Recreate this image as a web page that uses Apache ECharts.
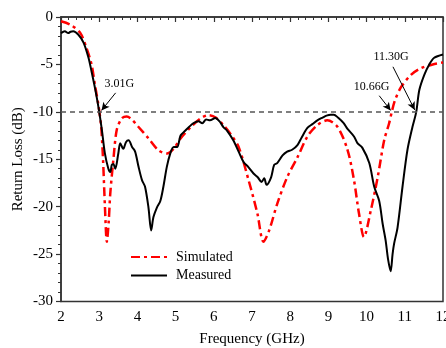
<!DOCTYPE html>
<html>
<head>
<meta charset="utf-8">
<script src="https://cdn.jsdelivr.net/npm/echarts@6/dist/echarts.min.js"></script>
<style>
html,body{margin:0;padding:0;background:#fff;}
#chart{width:446px;height:348px;}
</style>
</head>
<body>
<div id="chart"></div>
<script>
// Simulated return loss [GHz, dB]
const simFreq = [2.0,2.24,2.5,2.67,2.8,2.89,2.98,3.05,3.1,3.15,3.2,3.25,3.29,3.37,3.46,3.59,3.72,3.85,4.03,4.29,4.55,4.77,4.95,5.13,5.4,5.65,5.86,6.05,6.25,6.45,6.65,6.91,7.14,7.3,7.45,7.66,7.92,8.19,8.45,8.71,8.97,9.24,9.5,9.67,9.8,9.93,10.11,10.29,10.46,10.59,10.66,10.74,10.9,11.16,11.42,11.73,12.0];
const simDb   = [-0.45,-0.8,-1.65,-3.3,-5.0,-7.2,-9.3,-11.5,-15,-20,-23.7,-21.5,-18.6,-15.1,-11.9,-10.7,-10.5,-10.8,-11.6,-12.8,-14.05,-14.4,-13.9,-12.8,-11.6,-10.7,-10.35,-10.6,-11.4,-12.4,-13.7,-17.2,-20.7,-23.7,-22.5,-19.7,-16.9,-14.8,-12.6,-11.4,-10.9,-11.6,-14,-17.2,-20.7,-23.2,-20.4,-16.9,-13.0,-11.2,-10,-8.8,-7.4,-6.1,-5.4,-5.0,-4.8];
// Measured return loss [GHz, dB]
const meaFreq = [2.0,2.1,2.19,2.25,2.32,2.45,2.59,2.72,2.8,2.89,2.98,3.07,3.15,3.24,3.29,3.33,3.37,3.42,3.5,3.55,3.63,3.7,3.77,3.86,3.94,4.03,4.12,4.2,4.29,4.36,4.42,4.51,4.6,4.68,4.77,4.86,4.95,5.04,5.13,5.25,5.35,5.47,5.6,5.7,5.8,5.9,6.04,6.15,6.25,6.35,6.51,6.65,6.78,6.9,7.04,7.15,7.25,7.32,7.38,7.5,7.58,7.66,7.8,7.92,8.05,8.19,8.3,8.45,8.58,8.71,8.85,8.95,9.06,9.14,9.25,9.4,9.5,9.67,9.76,9.89,10.07,10.2,10.33,10.42,10.5,10.56,10.63,10.68,10.72,10.81,10.94,11.07,11.2,11.3,11.38,11.51,11.64,11.77,12.0];
const meaDb   = [-1.7,-1.5,-1.7,-1.55,-1.5,-1.85,-2.7,-4.3,-5.75,-7.5,-9.5,-11.9,-14.4,-16.0,-16.35,-15.6,-15.5,-16.0,-14.4,-13.3,-13.9,-13.2,-13.0,-13.7,-14.2,-15.8,-17.2,-17.9,-20.1,-22.5,-21.1,-20.1,-19.4,-17.9,-15.8,-14.4,-13.7,-13.7,-12.5,-12.0,-11.6,-11.2,-11.0,-11.2,-10.8,-10.9,-10.65,-11.0,-11.6,-12.0,-13.0,-14.2,-15.3,-15.8,-16.5,-16.9,-17.4,-17.0,-17.7,-16.9,-15.6,-15.4,-14.6,-14.2,-14.0,-13.5,-12.7,-11.7,-11.3,-10.9,-10.6,-10.4,-10.3,-10.3,-10.6,-11.2,-11.8,-12.6,-13.3,-13.8,-15.4,-17.9,-19.4,-21.8,-23.6,-25.5,-26.8,-25.0,-23.9,-22.2,-17.9,-14.0,-11.6,-10.0,-7.7,-6.1,-5.0,-4.3,-3.95];
const seriesNames = ['Simulated','Measured'];
const refLevel = -10;
// annotations: label, text anchor [GHz,dB], arrow start, arrow tip
const annLabels = ['3.01G','10.66G','11.30G'];
const annText  = [[3.53,-7.0],[10.13,-7.35],[10.64,-4.2]];
const annFrom  = [[3.43,-8.0],[10.33,-8.3],[10.69,-5.25]];
const annTo    = [[3.06,-9.85],[10.63,-9.85],[11.26,-9.8]];

const FONT = '"Liberation Serif","Times New Roman",serif';
const zip = (a,b)=>a.map((v,i)=>[v,b[i]]);

const chart = echarts.init(document.getElementById('chart'), null, {renderer:'canvas'});
const axisCommon = {
  axisLine:{show:true,lineStyle:{color:'#333',width:1.5}},
  axisTick:{show:true,inside:false,length:5,lineStyle:{color:'#333',width:1.2}},
  minorTick:{show:true,splitNumber:5,length:3,lineStyle:{color:'#333',width:1}},
  splitLine:{show:false},
  axisLabel:{color:'#000',fontSize:15,fontFamily:FONT},
  nameTextStyle:{color:'#000',fontSize:15,fontFamily:FONT},
  nameMoveOverlap:false
};
chart.setOption({
  animation:false,
  backgroundColor:'#fff',
  grid:{left:61,right:3,top:17,bottom:46.5,containLabel:false,outerBoundsMode:'none',show:true,borderColor:'#333',borderWidth:1.5,backgroundColor:'transparent'},
  legend:{
    orient:'vertical',left:125,top:245,itemWidth:36,itemHeight:14,itemGap:4.6,
    itemStyle:{opacity:0},
    textStyle:{color:'#000',fontSize:14,fontFamily:FONT,padding:[0,0,0,4]},
    data:seriesNames
  },
  xAxis:Object.assign({},axisCommon,{
    type:'value',min:2,max:12,interval:1,
    name:'Frequency (GHz)',nameLocation:'middle',nameGap:30.5,
    axisLabel:Object.assign({},axisCommon.axisLabel,{margin:8})
  }),
  yAxis:Object.assign({},axisCommon,{
    type:'value',min:-30,max:0,interval:5,
    name:'Return Loss (dB)',nameLocation:'middle',nameGap:35,
    axisLabel:Object.assign({},axisCommon.axisLabel,{margin:8})
  }),
  series:[
    {
      name:seriesNames[0],type:'line',smooth:0.3,symbol:'none',
      data:zip(simFreq,simDb),
      lineStyle:{color:'#ff0000',width:2.5,type:[9,4,3,4]},
      itemStyle:{color:'#ff0000'},
      z:3
    },
    {
      name:seriesNames[1],type:'line',smooth:0.3,symbol:'none',
      data:zip(meaFreq,meaDb),
      lineStyle:{color:'#000',width:2},
      itemStyle:{color:'#000'},
      z:4,
      markLine:{
        silent:true,animation:false,
        symbol:['none','none'],
        label:{show:false},
        lineStyle:{color:'#555',width:1.5,type:[5,4]},
        data:[{yAxis:refLevel}]
      }
    },
    {
      name:'annotations',type:'line',data:[],symbol:'none',
      markLine:{
        silent:true,animation:false,
        symbol:['none','arrow'],symbolSize:[6,8],
        label:{show:false},
        lineStyle:{color:'#000',width:1,type:'solid'},
        data:annFrom.map((f,i)=>[{coord:f},{coord:annTo[i]}])
      },
      markPoint:{
        silent:true,animation:false,
        symbol:'rect',symbolSize:1,
        itemStyle:{color:'rgba(0,0,0,0)'},
        label:{show:true,position:'inside',color:'#000',fontSize:12,fontFamily:FONT,formatter:p=>p.name},
        data:annText.map((c,i)=>({name:annLabels[i],coord:c}))
      }
    }
  ]
});
</script>
</body>
</html>
